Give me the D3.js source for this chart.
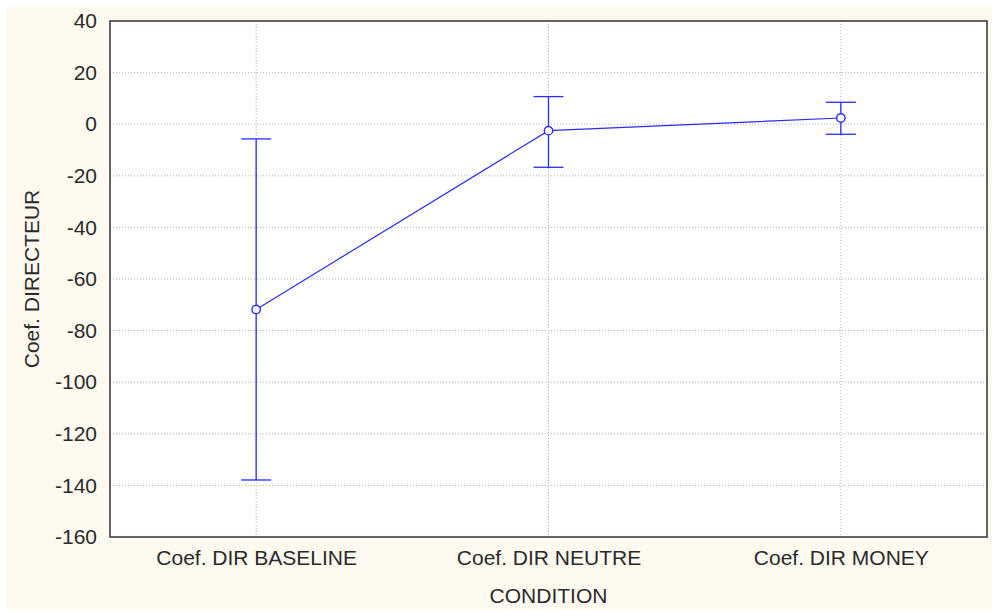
<!DOCTYPE html>
<html><head><meta charset="utf-8">
<script src="https://cdn.jsdelivr.net/npm/d3@7"></script>
<style>body{margin:0;background:#fff}svg{display:block}text{font-family:"Liberation Sans",Arial,sans-serif}</style>
</head><body>
<script>
const categories = ["Coef. DIR BASELINE", "Coef. DIR NEUTRE", "Coef. DIR MONEY"];
const means = [-71.8, -2.5, 2.4];
const upper = [-5.7, 10.7, 8.5];
const lower = [-137.9, -16.7, -3.9];
const yTicks = [40, 20, 0, -20, -40, -60, -80, -100, -120, -140, -160];
const xTitle = "CONDITION";
const yTitle = "Coef. DIRECTEUR";

const W = 992, H = 611;
const m = {l:110, r:5, t:21, b:74};
const FS = 21, TC = "#2a2a2a";
const svg = d3.select("body").append("svg").attr("width", W).attr("height", H);
svg.append("rect").attr("x",7).attr("y",6).attr("width",W-7).attr("height",H-7).attr("fill","#fffaf0");

const x = d3.scalePoint().domain(categories).range([m.l, W-m.r]).padding(0.5);
const y = d3.scaleLinear().domain([-160, 40]).range([H-m.b, m.t]);

svg.append("rect").attr("x",m.l).attr("y",m.t).attr("width",W-m.r-m.l).attr("height",H-m.b-m.t).attr("fill","#fff");

// grid
svg.append("g").selectAll("line").data(yTicks.slice(1,-1)).join("line")
  .attr("x1",m.l).attr("x2",W-m.r).attr("y1",d=>y(d)).attr("y2",d=>y(d))
  .attr("stroke","#b4b4b4").attr("stroke-dasharray","1,2");
svg.append("g").selectAll("line").data(categories).join("line")
  .attr("x1",d=>x(d)).attr("x2",d=>x(d)).attr("y1",m.t).attr("y2",H-m.b)
  .attr("stroke","#b4b4b4").attr("stroke-dasharray","1,2");

// axes
const ya = svg.append("g").attr("transform",`translate(${m.l},0)`)
  .call(d3.axisLeft(y).tickValues(yTicks).tickSize(0).tickPadding(13).tickFormat(d=>String(d)));
ya.select(".domain").remove();
ya.selectAll("text").attr("font-size",FS).attr("fill",TC).attr("font-family","Liberation Sans, Arial");
const xa = svg.append("g").attr("transform",`translate(0,${H-m.b})`)
  .call(d3.axisBottom(x).tickSize(0).tickPadding(13));
xa.select(".domain").remove();
xa.selectAll("text").attr("font-size",FS).attr("fill",TC).attr("font-family","Liberation Sans, Arial");

svg.append("rect").attr("x",m.l).attr("y",m.t).attr("width",W-m.r-m.l).attr("height",H-m.b-m.t)
  .attr("fill","none").attr("stroke","#333").attr("stroke-width",1.5);

svg.append("text").attr("x",x(categories[1])).attr("y",603).attr("text-anchor","middle")
  .attr("font-size",FS).attr("fill",TC).text(xTitle);
svg.append("text").attr("transform",`translate(39,${(m.t+H-m.b)/2}) rotate(-90)`).attr("text-anchor","middle")
  .attr("font-size",FS).attr("fill",TC).text(yTitle);

const blue = "#2a2aff";
const data = categories.map((c,i)=>({c, m:means[i], u:upper[i], l:lower[i]}));
const g = svg.append("g");
g.selectAll(".eb").data(data).join("line").attr("x1",d=>x(d.c)).attr("x2",d=>x(d.c))
  .attr("y1",d=>y(d.u)).attr("y2",d=>y(d.l)).attr("stroke",blue).attr("stroke-width",1.3);
g.selectAll(".cu").data(data).join("line").attr("x1",d=>x(d.c)-15).attr("x2",d=>x(d.c)+15)
  .attr("y1",d=>y(d.u)).attr("y2",d=>y(d.u)).attr("stroke",blue).attr("stroke-width",1.3);
g.selectAll(".cl").data(data).join("line").attr("x1",d=>x(d.c)-15).attr("x2",d=>x(d.c)+15)
  .attr("y1",d=>y(d.l)).attr("y2",d=>y(d.l)).attr("stroke",blue).attr("stroke-width",1.3);
g.append("path").datum(data).attr("d",d3.line().x(d=>x(d.c)).y(d=>y(d.m)))
  .attr("fill","none").attr("stroke",blue).attr("stroke-width",1.2);
g.selectAll("circle").data(data).join("circle").attr("cx",d=>x(d.c)).attr("cy",d=>y(d.m)).attr("r",4.2)
  .attr("fill","#fff").attr("stroke",blue).attr("stroke-width",1.4);
</script>
</body></html>
